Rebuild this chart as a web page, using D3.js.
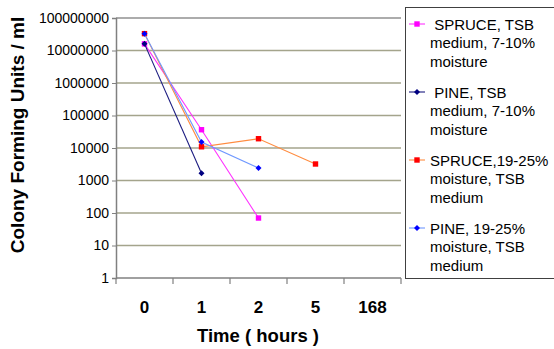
<!DOCTYPE html>
<html><head><meta charset="utf-8">
<script src="https://cdn.jsdelivr.net/npm/d3@7"></script>
<style>body{margin:0;background:#fff}svg{display:block;font-family:"Liberation Sans",Arial,sans-serif}</style>
</head><body>
<svg id="c" width="554" height="349"></svg>
<script>
const categories = ["0","1","2","5","168"];
const yTicks = [1,10,100,1000,10000,100000,1000000,10000000,100000000];
const spruce710 = [16000000, 36500, 70, null, null];
const pine710 = [16000000, 1660, null, null, null];
const spruce1925 = [33000000, 10900, 19300, 3220, null];
const pine1925 = [33000000, 15300, 2430, null, null];
const seriesNames = [
  [" SPRUCE, TSB","medium, 7-10%","moisture"],
  [" PINE, TSB","medium, 7-10%","moisture"],
  ["SPRUCE,19-25%","moisture, TSB","medium"],
  ["PINE, 19-25%","moisture, TSB","medium"]
];
const xTitle = "Time ( hours )";
const yTitle = "Colony Forming Units / ml";

const series = [
  {vals: spruce710, line:"#ff33ff", fill:"#ff00ff", shape:"square"},
  {vals: pine710, line:"#1a1a80", fill:"#000080", shape:"diamond"},
  {vals: spruce1925, line:"#ff8c40", fill:"#ff0000", shape:"square"},
  {vals: pine1925, line:"#6f98ff", fill:"#0000ff", shape:"diamond"}
];

const svg = d3.select("#c");
const L=116, R=401, T=18, B=278;
const x = d3.scaleBand().domain(categories).range([L,R]).padding(0);
const y = d3.scaleLog().domain([1,1e8]).range([B,T]);

// gridlines
svg.append("g").selectAll("line").data(yTicks.filter(v=>v>1)).join("line")
  .attr("x1",L).attr("x2",R).attr("y1",d=>y(d)).attr("y2",d=>y(d))
  .attr("stroke",d=>d===1e8?"#909090":"#a4a48c").attr("stroke-width",1.5);

// y axis
const ya = svg.append("g").attr("transform",`translate(${L},0)`)
  .call(d3.axisLeft(y).tickValues(yTicks).tickFormat(d3.format("d")).tickSize(4).tickPadding(3));
ya.select(".domain").attr("stroke","#808080").attr("stroke-width",1.5);
ya.selectAll(".tick line").attr("stroke","#808080");
ya.selectAll("text").attr("font-size","14px").attr("fill","#000").attr("font-family","Liberation Sans, Arial, sans-serif");

// x axis
const xa = svg.append("g").attr("transform",`translate(0,${B})`);
xa.append("line").attr("x1",L).attr("x2",R).attr("y1",0).attr("y2",0).attr("stroke","#808080").attr("stroke-width",1.5);
const bounds = categories.map(c=>x(c)).concat([x(categories[categories.length-1])+x.bandwidth()]);
xa.selectAll("line.t").data(bounds).join("line").attr("class","t")
  .attr("x1",d=>d).attr("x2",d=>d).attr("y1",0).attr("y2",6).attr("stroke","#808080").attr("stroke-width",1.2);
xa.selectAll("text").data(categories).join("text")
  .attr("x",d=>x(d)+x.bandwidth()/2).attr("y",35).attr("text-anchor","middle")
  .attr("font-size","17px").attr("font-weight","bold").text(d=>d);

// titles
svg.append("text").attr("x",258).attr("y",342).attr("text-anchor","middle")
  .attr("font-size","18.5px").attr("font-weight","bold").text(xTitle);
svg.append("text").attr("transform","translate(24,135) rotate(-90)").attr("text-anchor","middle")
  .attr("font-size","19px").attr("font-weight","bold").text(yTitle);

function marker(g, shape, color, cx, cy){
  if(shape==="square"){
    g.append("rect").attr("x",cx-2.7).attr("y",cy-2.7).attr("width",5.4).attr("height",5.4).attr("fill",color);
  } else {
    g.append("path").attr("d",`M${cx},${cy-3}L${cx+3},${cy}L${cx},${cy+3}L${cx-3},${cy}Z`).attr("fill",color);
  }
}

// series
series.forEach(s=>{
  const pts = s.vals.map((v,i)=>({v,c:categories[i]})).filter(p=>p.v!=null);
  const line = d3.line().x(p=>x(p.c)+x.bandwidth()/2).y(p=>y(p.v));
  const g = svg.append("g");
  g.append("path").attr("d",line(pts)).attr("fill","none").attr("stroke",s.line).attr("stroke-width",1.1);
  pts.forEach(p=>marker(g,s.shape,s.fill,x(p.c)+x.bandwidth()/2,y(p.v)));
});

// legend
const lg = svg.append("g");
lg.append("rect").attr("x",405.5).attr("y",7.5).attr("width",160).attr("height",271).attr("fill","#fff").attr("stroke","#404040").attr("stroke-width",1);
const entryY = [24,92,160,228];
series.forEach((s,i)=>{
  const cy = entryY[i];
  lg.append("line").attr("x1",409).attr("x2",425).attr("y1",cy).attr("y2",cy).attr("stroke",s.line).attr("stroke-width",1.1);
  marker(lg,s.shape,s.fill,417,cy);
  seriesNames[i].forEach((t,j)=>{
    lg.append("text").attr("x",430).attr("y",cy+5.5+j*18.5).attr("font-size","15px")
      .attr("xml:space","preserve").style("white-space","pre").text(t);
  });
});
</script>
</body></html>
